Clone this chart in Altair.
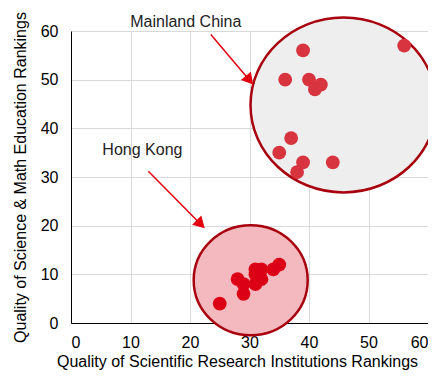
import altair as alt
import pandas as pd

# Data
mainland_x = [56, 39, 36, 40, 42, 41, 37, 35, 39, 44, 38]
mainland_y = [57, 56, 50, 50, 49, 48, 38, 35, 33, 33, 31]
hk_x = [25, 28, 29, 29, 31, 31, 32, 31, 32, 34, 35]
hk_y = [4, 9, 6, 8, 11, 10, 11, 8, 9, 11, 12]

# annotation positions (data units)
ell_names = ["Mainland China", "Hong Kong"]
ell_cx = [45.8, 30.2]
ell_cy = [44.8, 8.8]
label_x = [19.3, 12.0]
label_y = [61.8, 35.5]
arrow_x0 = [23.5, 13.0]
arrow_y0 = [59.3, 31.2]
arrow_x1 = [30.0, 21.8]
arrow_y1 = [49.9, 20.3]
arrow_angle = [140, 135]

pts = pd.DataFrame({
    "x": mainland_x + hk_x,
    "y": mainland_y + hk_y,
    "group": ["Mainland China"] * len(mainland_x) + ["Hong Kong"] * len(hk_x),
})
ann = pd.DataFrame({
    "name": ell_names, "cx": ell_cx, "cy": ell_cy,
    "lx": label_x, "ly": label_y,
    "x0": arrow_x0, "y0": arrow_y0, "x1": arrow_x1, "y1": arrow_y1,
    "angle": arrow_angle,
})

xs = alt.Scale(domain=[0, 60], nice=False, zero=False)
ys = alt.Scale(domain=[0, 60], nice=False, zero=False)

ellipse_path = ("M -1 0 C -1 -0.519 -0.552 -0.94 0 -0.94 C 0.552 -0.94 1 -0.519 1 0 "
                "C 1 0.519 0.552 0.94 0 0.94 C -0.552 0.94 -1 0.519 -1 0 Z")
ellipse_path2 = ("M -1 0 C -1 -0.533 -0.552 -0.965 0 -0.965 C 0.552 -0.965 1 -0.533 1 0 "
                 "C 1 0.533 0.552 0.965 0 0.965 C -0.552 0.965 -1 0.533 -1 0 Z")

base = alt.Chart(ann)

xenc = alt.X("cx:Q", scale=xs, title="Quality of Scientific Research Institutions Rankings",
             axis=alt.Axis(values=[0, 10, 20, 30, 40, 50, 60], titleX=166, titleAlign="center"))
yenc = alt.Y("cy:Q", scale=ys, title="Quality of Science & Math Education Rankings",
             axis=alt.Axis(values=[0, 10, 20, 30, 40, 50, 60]))

ell_main = base.transform_filter(alt.datum.name == "Mainland China").mark_point(
    shape=ellipse_path, filled=True, fill="#eeeeee", stroke="#a8000e",
    strokeWidth=2.5, opacity=1, size=186 * 186,
).encode(x=xenc, y=yenc)

ell_hk = base.transform_filter(alt.datum.name == "Hong Kong").mark_point(
    shape=ellipse_path2, filled=True, fill="#f4b9be", stroke="#a8000e",
    strokeWidth=2.5, opacity=1, size=114 * 114,
).encode(x=alt.X("cx:Q", scale=xs), y=alt.Y("cy:Q", scale=ys))

points = alt.Chart(pts).mark_circle(size=190, opacity=1).encode(
    x=alt.X("x:Q", scale=xs),
    y=alt.Y("y:Q", scale=ys),
    color=alt.Color("group:N", scale=alt.Scale(domain=["Mainland China", "Hong Kong"],
                                               range=["#d7343f", "#dc0016"]), legend=None),
)

arrows = base.mark_rule(color="#e3000f", strokeWidth=1.5).encode(
    x=alt.X("x0:Q", scale=xs), y=alt.Y("y0:Q", scale=ys),
    x2="x1:Q", y2="y1:Q",
)
heads = base.mark_point(shape="triangle-up", filled=True, color="#e3000f", size=170, opacity=1).encode(
    x=alt.X("x1:Q", scale=xs), y=alt.Y("y1:Q", scale=ys),
    angle=alt.Angle("angle:Q", scale=None),
)
labels = base.mark_text(font="Liberation Sans", fontSize=16, color="#222222").encode(
    x=alt.X("lx:Q", scale=xs), y=alt.Y("ly:Q", scale=ys), text="name:N",
)

chart = alt.layer(ell_main, ell_hk, points, arrows, heads, labels).properties(
    width=357, height=292,
    autosize=alt.AutoSizeParams(type="none"),
    padding={"left": 63, "top": 23, "right": 0, "bottom": 51},
).configure_view(stroke=None).configure_axis(
    labelFont="Liberation Sans", labelFontSize=16, labelColor="#000000",
    titleFont="Liberation Sans", titleFontSize=16, titleFontWeight="normal", titleColor="#000000",
    domainColor="#000000", domainWidth=1, ticks=False, tickSize=0,
    gridColor="#d9d9d9", gridWidth=1,
).configure_axisY(labelPadding=13, titlePadding=12).configure_axisX(labelPadding=11, titlePadding=3)

chart.save("out.html", embed_options={"renderer": "svg", "actions": False})
